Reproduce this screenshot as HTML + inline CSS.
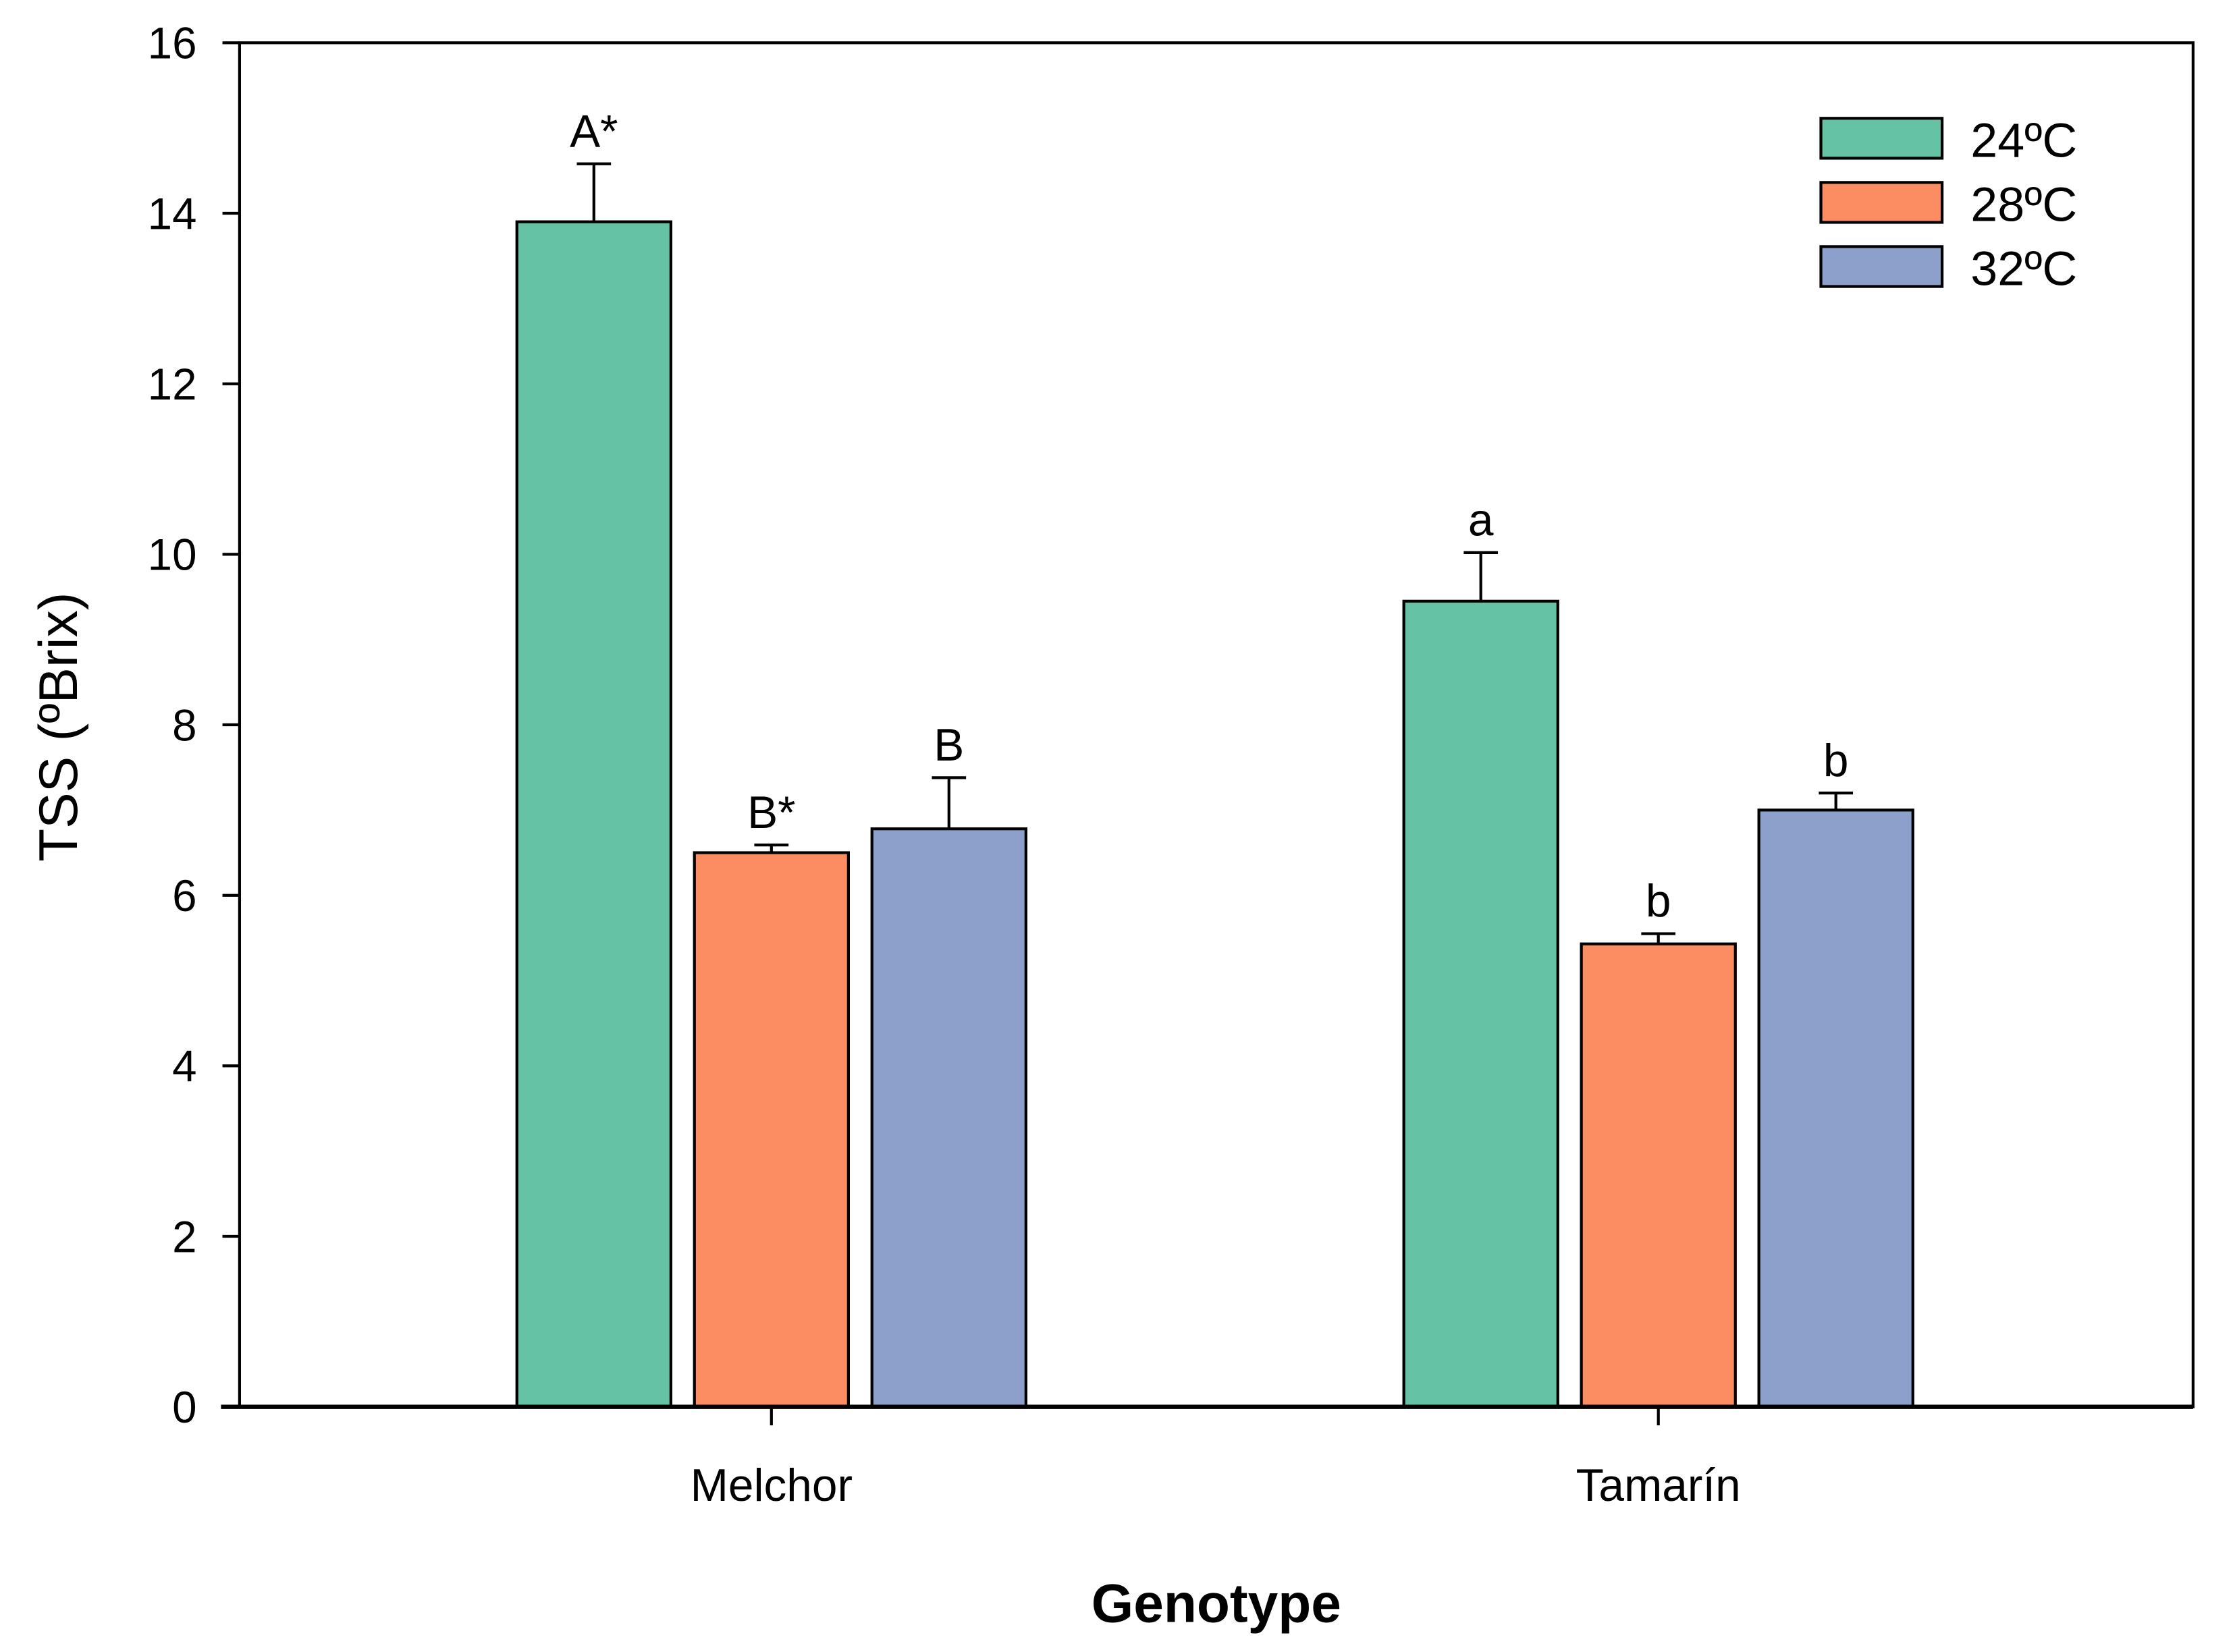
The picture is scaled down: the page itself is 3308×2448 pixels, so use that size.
<!DOCTYPE html>
<html><head><meta charset="utf-8"><style>
html,body{margin:0;padding:0;background:#fff;}
svg{display:block;font-family:"Liberation Sans",Arial,sans-serif;}
</style></head><body>
<svg id="chart" width="3308" height="2448" viewBox="0 0 1566 1159" preserveAspectRatio="none" xmlns="http://www.w3.org/2000/svg">
<g id="plot"></g>
</svg>
<script>
const categories = ["Melchor", "Tamarín"];
const seriesNames = ["24ºC", "28ºC", "32ºC"];
const values24 = [13.9, 9.45];
const values28 = [6.5, 5.43];
const values32 = [6.78, 7.0];
const errors24 = [0.68, 0.57];
const errors28 = [0.09, 0.12];
const errors32 = [0.6, 0.2];
const letters24 = ["A*", "a"];
const letters28 = ["B*", "b"];
const letters32 = ["B", "b"];
const yTicks = [0, 2, 4, 6, 8, 10, 12, 14, 16];

const colors = ["#66c2a5", "#fc8d62", "#8da0cb"];
const NS = "http://www.w3.org/2000/svg";
const g = document.getElementById("plot");
const L = 168, R = 1538, T = 30, B = 987;
const yMax = 16;
const y = v => B - (v / yMax) * (B - T);
const groupCenters = [541, 1163];
const barW = 108, barStep = 124.5;
const x = (ci, si) => groupCenters[ci] + (si - 1) * barStep - barW / 2;

function el(tag, attrs, parent) {
  const e = document.createElementNS(NS, tag);
  for (const k in attrs) e.setAttribute(k, attrs[k]);
  (parent || g).appendChild(e);
  return e;
}

const series = [values24, values28, values32];
const errs = [errors24, errors28, errors32];
const letters = [letters24, letters28, letters32];

categories.forEach((c, ci) => {
  series.forEach((vals, si) => {
    const v = vals[ci];
    const bx = x(ci, si);
    const bar = el("rect", {x: bx, y: y(v), width: barW, height: B - y(v), fill: colors[si], stroke: "#000", "stroke-width": 2});
    
    
    const cx = bx + barW / 2;
    const top = y(v + errs[si][ci]);
    const eb = el("path", {d: `M${cx},${y(v)} V${top} M${cx - 12},${top} H${cx + 12}`, stroke: "#000", "stroke-width": 2, fill: "none"});
    
    
    const t = el("text", {x: cx, y: top - 12, "text-anchor": "middle", "font-size": 32});
    t.textContent = letters[si][ci];
    
    
  });
});

const frame = el("rect", {x: L, y: T, width: R - L, height: B - T, fill: "none", stroke: "#000", "stroke-width": 2});


const xaxis = el("line", {x1: 155, x2: R, y1: B, y2: B, stroke: "#000", "stroke-width": 3});



yTicks.forEach(v => {
  const tk = el("line", {x1: L - 12, x2: L, y1: y(v), y2: y(v), stroke: "#000", "stroke-width": 2});
  
  
  const t = el("text", {x: 138, y: y(v) + 11, "text-anchor": "end", "font-size": 31});
  t.textContent = v;
  
  
});

categories.forEach((c, ci) => {
  const tk = el("line", {x1: groupCenters[ci], x2: groupCenters[ci], y1: B, y2: B + 13, stroke: "#000", "stroke-width": 2});
  
  
  const t = el("text", {x: groupCenters[ci], y: 1053, "text-anchor": "middle", "font-size": 32});
  t.textContent = c;
  
  
});

const xt = el("text", {x: 853, y: 1138, "text-anchor": "middle", "font-size": 38, "font-weight": "bold"});
xt.textContent = "Genotype";


const yt = el("text", {x: 0, y: 0, "text-anchor": "middle", "font-size": 38, transform: "translate(54,510) rotate(-90)"});
yt.textContent = "TSS (ºBrix)";



seriesNames.forEach((n, si) => {
  const ly = 83 + si * 45;
  const sw = el("rect", {x: 1277, y: ly, width: 85, height: 28, fill: colors[si], stroke: "#000", "stroke-width": 2});
  
  
  const t = el("text", {x: 1382, y: ly + 27, "font-size": 34});
  t.textContent = n;
  
  
});
</script>
</body></html>
